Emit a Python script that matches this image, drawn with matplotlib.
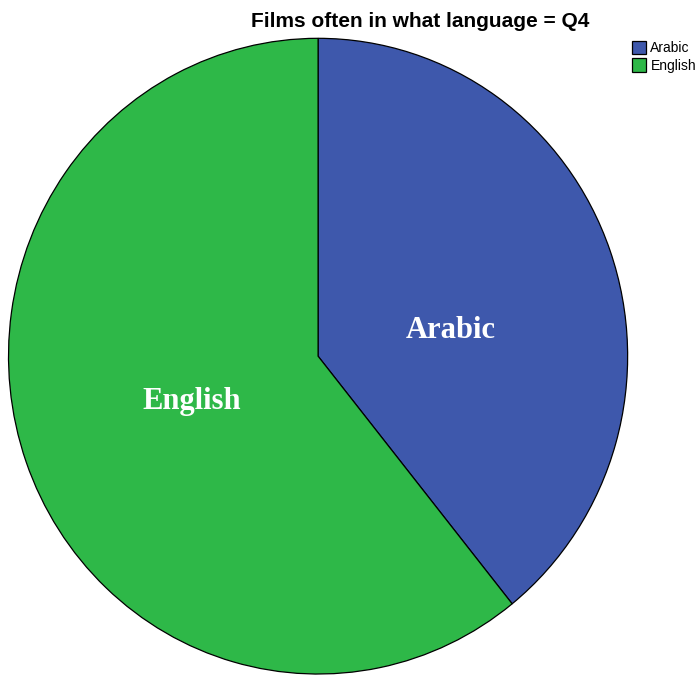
import matplotlib
matplotlib.use("Agg")
import matplotlib.pyplot as plt

# counts per answer
languages = ["Arabic", "English"]
counts = [20, 31]
colors = ["#3E58AC", "#2EB848"]

fig = plt.figure(figsize=(6.98, 6.77), dpi=100)
# pie is drawn slightly taller than wide
ax = fig.add_axes([0.0122, 0.0044, 0.887, 0.939])

wedges, texts = ax.pie(counts, labels=languages, colors=colors, startangle=90,
                       counterclock=False, labeldistance=0.43,
                       wedgeprops=dict(edgecolor="black", linewidth=0.9),
                       textprops=dict(color="white", family="Liberation Serif",
                                      fontweight="bold", fontsize=22,
                                      ha="center", va="center"))
ax.set_xlim(-1.0, 1.0)
ax.set_ylim(-1.0, 1.0)
ax.set_aspect("auto")

# in-slice label positions
label_pos = [(0.430, 0.082), (-0.408, -0.142)]
for t, p in zip(texts, label_pos):
    t.set_position(p)

fig.text(0.602, 0.968, "Films often in what language = Q4", ha="center", va="center",
         family="Liberation Sans", fontweight="bold", fontsize=15)

leg = fig.legend(wedges, languages, loc="upper left", bbox_to_anchor=(0.905, 0.940),
                 frameon=False, prop=dict(family="Liberation Sans", size=10),
                 handlelength=1.05, handleheight=1.1, handletextpad=0.3,
                 labelspacing=0.25, borderpad=0, borderaxespad=0)

fig.savefig("out.png", dpi=100)
